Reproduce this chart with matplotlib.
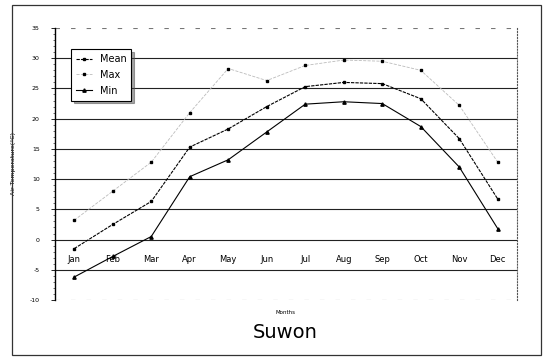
import numpy as np
import matplotlib.pyplot as plt
from matplotlib.patches import Rectangle

months = ['Jan', 'Feb', 'Mar', 'Apr', 'May', 'Jun', 'Jul', 'Aug', 'Sep', 'Oct', 'Nov', 'Dec']
mean_t = [-1.5, 2.5, 6.3, 15.3, 18.3, 22.0, 25.3, 26.0, 25.8, 23.3, 16.7, 6.7]
max_t = [3.2, 8.0, 12.8, 21.0, 28.3, 26.3, 28.8, 29.7, 29.5, 28.0, 22.2, 12.8]
min_t = [-6.2, -2.8, 0.5, 10.4, 13.2, 17.8, 22.4, 22.8, 22.5, 18.7, 12.0, 1.8]
yticks = [-10, -5, 0, 5, 10, 15, 20, 25, 30, 35]

fig = plt.figure(figsize=(5.46, 3.6), dpi=100)
# outer frame of the scanned page
fig.patches.append(Rectangle((0.022, 0.014), 0.968, 0.972, transform=fig.transFigure,
                             fill=False, edgecolor='#333333', lw=0.9))

ax = fig.add_axes([0.1007, 0.1667, 0.8462, 0.7555])
x = np.arange(len(months))

# spine position first: it resets the ticks
ax.spines['bottom'].set_position(('data', 0))
ax.spines['bottom'].set_visible(False)
ax.spines['top'].set_visible(False)
ax.spines['left'].set_linewidth(1.0)
ax.spines['right'].set_linestyle(':')
ax.spines['right'].set_color('#555555')

for v in range(-5, 35, 5):
    ax.axhline(v, color='#222222', lw=0.8, zorder=1)
ax.axhline(35, color='#777777', lw=0.8, ls=(0, (4, 10)), zorder=1)
ax.axhline(-10, color='#777777', lw=0.8, ls=(0, (4, 10)), zorder=1)

ax.plot(x, max_t, color='#bbbbbb', lw=0.6, ls='--', marker='s', ms=2.0,
        mfc='black', mec='black', label='Max', zorder=3)
ax.plot(x, mean_t, color='black', lw=0.8, ls=(0, (3, 1)), marker='s', ms=2.0,
        label='Mean', zorder=4)
ax.plot(x, min_t, color='black', lw=0.8, marker='^', ms=2.4, label='Min', zorder=4)

ax.set_xlim(-0.5, 11.5)
ax.set_ylim(-10, 35)
ax.set_yticks(yticks)
ax.set_yticklabels([str(t) for t in yticks])
ax.set_yticks(np.arange(-10, 36, 1), minor=True)
ax.tick_params(axis='y', which='major', length=3, width=0.6, pad=8, labelsize=4.5)
ax.tick_params(axis='y', which='minor', length=1.5, width=0.4)
ax.set_xticks(x)
ax.set_xticklabels(months)
ax.tick_params(axis='x', length=0, pad=11, labelsize=6)

ax.set_ylabel('Air Temperature(°C)', fontsize=4.5, labelpad=10)
fig.text(0.522, 0.133, 'Months', fontsize=4, ha='center', va='center')
fig.text(0.522, 0.075, 'Suwon', fontsize=14, ha='center', va='center')

h, l = ax.get_legend_handles_labels()
order = [1, 0, 2]
leg = ax.legend([h[i] for i in order], [l[i] for i in order], loc='upper left',
                bbox_to_anchor=(0.025, 0.94), fontsize=7, frameon=True, fancybox=False,
                shadow=True, handlelength=1.6, borderpad=0.5, labelspacing=0.6)
leg.get_frame().set_edgecolor('black')
leg.get_frame().set_linewidth(0.8)

fig.savefig('out.png', dpi=100)
